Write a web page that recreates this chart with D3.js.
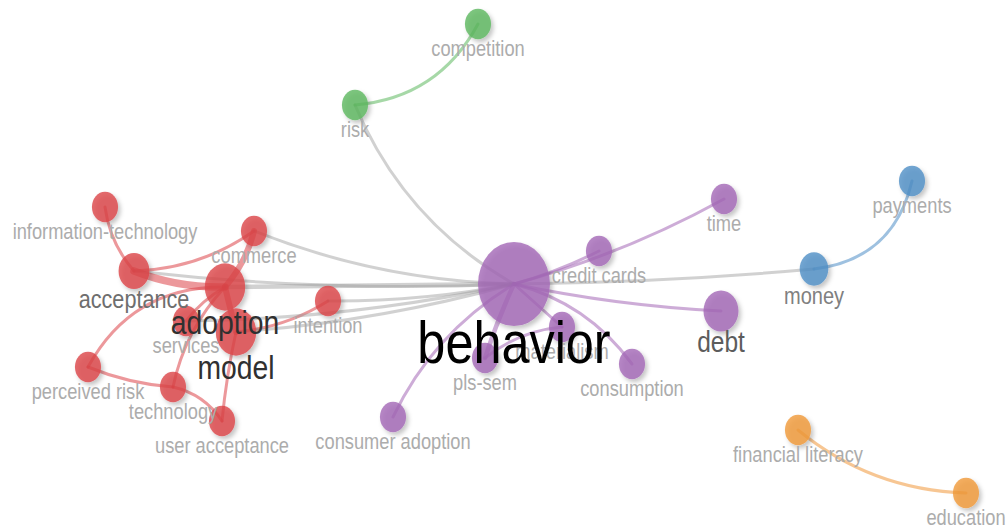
<!DOCTYPE html>
<html>
<head>
<meta charset="utf-8">
<script src="https://cdn.jsdelivr.net/npm/d3@7"></script>
<style>
  html, body { margin: 0; padding: 0; background: #fff; overflow: hidden; }
  text { font-family: "Liberation Sans", Arial, Helvetica, sans-serif; }
</style>
</head>
<body>
<svg id="chart" width="1006" height="528"></svg>
<script>
// ---- Keyword co-occurrence network ----
// Terms, their cluster, map coordinates and number of occurrences.
const terms = [
  "behavior", "adoption", "model", "acceptance", "commerce",
  "information-technology", "services", "intention", "perceived risk",
  "technology", "user acceptance", "risk", "competition", "credit cards",
  "time", "debt", "materialism", "pls-sem", "consumption",
  "consumer adoption", "money", "payments", "financial literacy", "education"
];
const termCluster = [
  5, 1, 1, 1, 1,
  1, 1, 1, 1,
  1, 1, 2, 2, 5,
  5, 5, 5, 5, 5,
  5, 3, 3, 4, 4
];
const termX = [
  0.14, -2.75, -2.64, -3.66, -2.46,
  -3.95, -3.14, -1.72, -4.12,
  -3.27, -2.78, -1.45, -0.22, 0.99,
  2.24, 2.21, 0.62, -0.15, 1.32,
  -1.07, 3.14, 4.12, 2.98, 4.66
];
const termY = [
  0.20, 0.23, 0.68, 0.07, -0.33,
  -0.57, 0.57, 0.37, 1.03,
  1.23, 1.57, -1.59, -2.40, -0.13,
  -0.65, 0.47, 0.63, 0.94, 1.00,
  1.53, 0.05, -0.83, 1.66, 2.29
];
const termOccurrences = [
  38, 12, 12, 7, 5,
  5, 5, 5, 5,
  5, 5, 5, 5, 5,
  5, 9, 5, 5, 5,
  5, 6, 5, 5, 5
];

// Links between terms and their strength.
const linkSource = [
  "information-technology", "acceptance", "acceptance", "adoption", "adoption",
  "perceived risk", "user acceptance", "adoption", "model", "adoption",
  "adoption", "model",
  "commerce", "adoption", "model", "services", "intention", "acceptance",
  "risk", "behavior",
  "behavior", "behavior", "behavior", "behavior", "behavior",
  "consumption", "behavior", "materialism",
  "money", "risk", "financial literacy"
];
const linkTarget = [
  "acceptance", "commerce", "adoption", "commerce", "perceived risk",
  "technology", "technology", "technology", "user acceptance", "model",
  "services", "intention",
  "behavior", "behavior", "behavior", "behavior", "behavior", "behavior",
  "behavior", "money",
  "time", "credit cards", "debt", "materialism", "pls-sem",
  "behavior", "consumer adoption", "pls-sem",
  "payments", "competition", "education"
];
const linkStrength = [
  1, 1, 4, 3, 1,
  1, 1, 1, 1, 3,
  1, 1,
  1, 2, 1, 1, 1, 1,
  1, 1,
  1, 1, 1, 1, 2,
  1, 1, 1,
  1, 1, 1
];

// ---- Styling ----
// How far each link bows to the right of its source->target direction (fraction of length).
const linkBend = [
  0.15, 0.15, 0.10, 0.12, 0.30,
  0.08, 0.20, 0.14, 0.03, 0.0,
  0.10, 0.12,
  0.09, 0.0, 0.05, 0.05, 0.05, 0.04,
  0.17, 0.02,
  0.06, 0.05, 0.04, 0.0, 0.03,
  0.18, 0.15, 0.15,
  0.35, 0.27, 0.17
];
const clusterColor = { 1: "#dc4348", 2: "#5cb85f", 3: "#4f8ec6", 4: "#f0983a", 5: "#a468b6" };
const V = 1.17; // vertical aspect of the map

const W = 1006, H = 528;
const svg = d3.select("#chart");

const x = d3.scaleLinear().domain([-5, 5.06]).range([0, W]);
const y = d3.scaleLinear().domain([-2.64, 2.64]).range([0, H]);
const radius = d3.scaleSqrt().domain([0, 38]).range([0, 36]);
const width = d3.scaleLinear().domain([1, 4]).range([3, 7.5]);
const grey = d3.scaleLinear().domain([4, 5, 6, 7, 9, 12, 38]).range([175, 172, 128, 110, 92, 48, 0]).clamp(true);

const nodes = terms.map((t, i) => ({
  name: t, cluster: termCluster[i],
  px: x(termX[i]), py: y(termY[i]),
  w: termOccurrences[i], r: radius(termOccurrences[i])
}));
const byName = new Map(nodes.map(d => [d.name, d]));

const links = linkSource.map((s, i) => ({
  s: byName.get(s), t: byName.get(linkTarget[i]),
  strength: linkStrength[i], bend: linkBend[i]
}));

const defs = svg.append("defs");
const shadow = defs.append("filter").attr("id", "shadow")
  .attr("x", "-50%").attr("y", "-50%").attr("width", "200%").attr("height", "200%");
shadow.append("feDropShadow").attr("dx", 2.5).attr("dy", 3).attr("stdDeviation", 2.2)
  .attr("flood-color", "#000").attr("flood-opacity", 0.28);

function curve(l) {
  const x0 = l.s.px, y0 = l.s.py, x1 = l.t.px, y1 = l.t.py;
  const dx = x1 - x0, dy = y1 - y0;
  const len = Math.hypot(dx, dy);
  const cx = (x0 + x1) / 2 - dy / len * l.bend * len;
  const cy = (y0 + y1) / 2 + dx / len * l.bend * len;
  const p = d3.path();
  p.moveTo(x0, y0);
  p.quadraticCurveTo(cx, cy, x1, y1);
  return p.toString();
}

// Links: between-cluster links in grey, within-cluster links in the cluster colour
const linkOrder = links.slice().sort((a, b) => a.strength - b.strength);
svg.append("g").attr("fill", "none").attr("stroke-linecap", "round")
  .selectAll("path").data(linkOrder).join("path")
  .attr("d", curve)
  .attr("stroke", d => d.s.cluster === d.t.cluster ? clusterColor[d.s.cluster] : "#9a9a9a")
  .attr("stroke-opacity", d => d.s.cluster === d.t.cluster ? 0.55 : 0.45)
  .attr("stroke-width", d => width(d.strength));

// Nodes
svg.append("g").attr("filter", "url(#shadow)")
  .selectAll("ellipse").data(nodes.slice().sort((a, b) => a.w - b.w)).join("ellipse")
  .attr("cx", d => d.px).attr("cy", d => d.py)
  .attr("rx", d => d.r).attr("ry", d => d.r * V)
  .attr("fill", d => clusterColor[d.cluster])
  .attr("fill-opacity", 0.8);

// Labels below each node, larger terms drawn last
svg.append("g").attr("text-anchor", "middle")
  .selectAll("text").data(nodes.slice().sort((a, b) => a.w - b.w)).join("text")
  .attr("transform", d => `translate(${d.px},${d.py + 2.04 * d.r + 5.5}) scale(1,${V})`)
  .attr("font-size", d => 1.4 * d.r)
  .attr("fill", d => { const g = Math.round(grey(d.w)); return `rgb(${g},${g},${g})`; })
  .text(d => d.name);
</script>
</body>
</html>
